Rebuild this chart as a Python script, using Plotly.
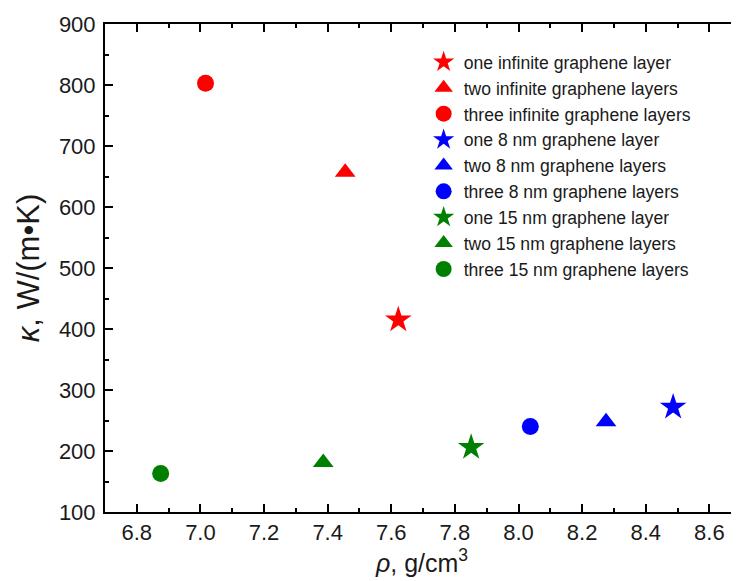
import plotly.graph_objects as go

# density (g/cm3) and thermal conductivity (W/(m*K))
names = [
    "one infinite graphene layer", "two infinite graphene layers", "three infinite graphene layers",
    "one 8 nm graphene layer", "two 8 nm graphene layers", "three 8 nm graphene layers",
    "one 15 nm graphene layer", "two 15 nm graphene layers", "three 15 nm graphene layers",
]
rho = [7.622, 7.455, 7.016, 8.486, 8.275, 8.037, 7.851, 7.386, 6.875]
kappa = [415, 657, 803, 272, 248, 240, 206, 181, 163]
colors = ["#FF0000"] * 3 + ["#0000FF"] * 3 + ["#008000"] * 3
symbols = ["star", "triangle-up", "circle"] * 3
sizes = [20, 18, 17] * 3

x_ticks = [6.8, 7.0, 7.2, 7.4, 7.6, 7.8, 8.0, 8.2, 8.4, 8.6]
x_tick_text = ["6.8", "7.0", "7.2", "7.4", "7.6", "7.8", "8.0", "8.2", "8.4", "8.6"]
y_ticks = [100, 200, 300, 400, 500, 600, 700, 800, 900]

FONT = "Liberation Sans, Arial, sans-serif"

fig = go.Figure()
for n, x, y, c, s, sz in zip(names, rho, kappa, colors, symbols, sizes):
    fig.add_trace(go.Scatter(
        x=[x], y=[y], mode="markers", name=n,
        marker=dict(color=c, symbol=s, size=sz, line=dict(width=0)),
    ))

axis_common = dict(
    showline=True, linecolor="#000000", linewidth=2, mirror="ticks",
    ticks="inside", ticklen=8, tickwidth=1.5, tickcolor="#000000",
    showgrid=False, zeroline=False, automargin=False,
    tickfont=dict(family=FONT, size=22, color="#1a1a1a"),
)

# the page body has an 8px margin, so the figure is 8px smaller and shifted
fig.update_layout(
    width=731, height=573,
    paper_bgcolor="white", plot_bgcolor="white",
    margin=dict(l=97, r=0, t=16, b=69),
    font=dict(family=FONT, color="#1a1a1a"),
    xaxis=dict(
        range=[6.7, 8.693], tickvals=x_ticks, ticktext=x_tick_text,
        minor=dict(dtick=0.1, ticks="inside", ticklen=4, tickcolor="#000000", tickwidth=1.5, showgrid=False),
        title=dict(text="<i>ρ</i>, g/cm<sup>3</sup>", font=dict(family=FONT, size=25, color="#1a1a1a"), standoff=4),
        **axis_common,
    ),
    yaxis=dict(
        range=[100, 900], tickvals=y_ticks, ticklabelstandoff=3,
        minor=dict(dtick=50, ticks="inside", ticklen=4, tickcolor="#000000", tickwidth=1.5, showgrid=False),
        title=dict(text="<i>κ</i>, W/(m•K)", font=dict(family=FONT, size=31, color="#1a1a1a"), standoff=10),
        **axis_common,
    ),
    showlegend=True,
    legend=dict(
        x=0.5026, y=0.959, xanchor="left", yanchor="top",
        font=dict(family=FONT, size=17.6, color="#1a1a1a"),
        bgcolor="rgba(0,0,0,0)", itemsizing="trace",
    ),
)

fig.write_html("out.html")
